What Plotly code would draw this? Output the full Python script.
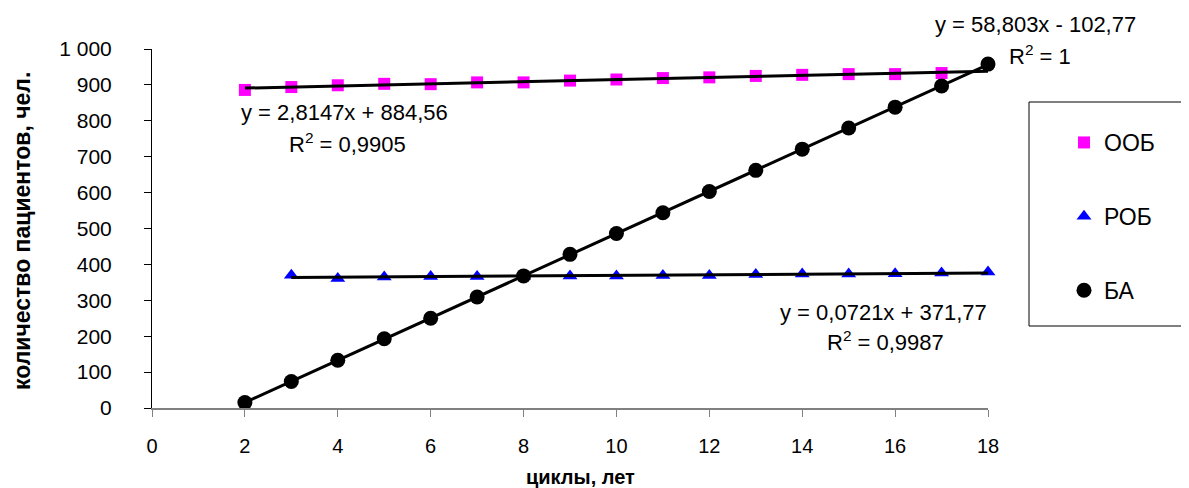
import numpy as np
import plotly.graph_objects as go

# ---- data ----
oob_x = [2, 3, 4, 5, 6, 7, 8, 9, 10, 11, 12, 13, 14, 15, 16, 17]
oob_y = [886, 894, 899, 903, 902, 907, 907, 912, 915, 919, 921, 925, 928, 930, 930, 933]

rob_x = [3, 4, 5, 6, 7, 8, 9, 10, 11, 12, 13, 14, 15, 16, 17, 18]
rob_y = [370, 361, 365, 366, 366, 367, 368, 368, 369, 369, 372, 373, 373, 374, 376, 379]

ba_x = [2, 3, 4, 5, 6, 7, 8, 9, 10, 11, 12, 13, 14, 15, 16, 17, 18]
ba_y = [15, 74, 133, 193, 250, 309, 368, 428, 486, 544, 603, 662, 721, 780, 838, 897, 958]

series_names = ["ООБ", "РОБ", "БА"]
x_ticks = [0, 2, 4, 6, 8, 10, 12, 14, 16, 18]
y_ticks = [0, 100, 200, 300, 400, 500, 600, 700, 800, 900, 1000]
y_tick_labels = ["0", "100", "200", "300", "400", "500", "600", "700", "800", "900", "1 000"]

eq_oob = ["y = 2,8147x + 884,56", "R<sup>2</sup> = 0,9905"]
eq_rob = ["y = 0,0721x + 371,77", "R<sup>2</sup> = 0,9987"]
eq_ba = ["y = 58,803x - 102,77", "R<sup>2</sup> = 1"]

x_title = "циклы, лет"
y_title = "количество пациентов, чел."

# ---- layout geometry (screen pixels; page body has an 8px margin) ----
OFF = 8
SCREEN_W, SCREEN_H = 1189, 488
W, H = SCREEN_W - OFF, SCREEN_H - OFF
PL, PR, PT, PB = 152 - OFF, 988 - OFF, 49 - OFF, 408 - OFF   # plot area edges in figure px
ML, MR, MT, MB = PL, 0, PT, H - PB
PAPER_W = W - ML - MR
PAPER_H = PB - PT
FONT = "Liberation Sans, Arial, sans-serif"


def px(xs):
    """screen x -> paper x"""
    return (xs - OFF - ML) / PAPER_W


def py(ys):
    """screen y -> paper y"""
    return (PB - (ys - OFF)) / PAPER_H


fig = go.Figure()

marker_styles = [
    dict(symbol="square", size=12, color="#FF00FF"),
    dict(symbol="triangle-up", size=13, color="#0000FF"),
    dict(symbol="circle", size=15, color="#000000"),
]
data = [(oob_x, oob_y), (rob_x, rob_y), (ba_x, ba_y)]

for i, ((xs, ys), name, ms) in enumerate(zip(data, series_names, marker_styles)):
    fig.add_trace(go.Scatter(
        x=xs, y=ys, mode="markers", name=name, marker=ms,
        cliponaxis=False, legendgroup=f"g{i}",
    ))

x_axis_max = x_ticks[-1]
for (xs, ys) in data:
    k, b = np.polyfit(xs, ys, 1)
    tx = np.array([min(xs), x_axis_max])
    fig.add_trace(go.Scatter(
        x=tx, y=k * tx + b, mode="lines", showlegend=False,
        line=dict(color="black", width=3), cliponaxis=False, hoverinfo="skip",
    ))

fig.update_xaxes(
    domain=[0, (PR - PL) / PAPER_W],
    range=[x_ticks[0], x_ticks[-1]], tickvals=x_ticks, showgrid=False, zeroline=False,
    showline=True, linecolor="#808080", linewidth=1.5, ticks="outside", ticklen=7,
    tickcolor="#808080", tickfont=dict(family=FONT, size=20, color="black"),
    ticklabelstandoff=12, automargin=False,
)
fig.update_yaxes(
    domain=[0, 1],
    range=[y_ticks[0], y_ticks[-1]], tickvals=y_ticks, ticktext=y_tick_labels,
    showgrid=False, zeroline=False,
    showline=True, linecolor="black", linewidth=1, ticks="outside", ticklen=7,
    tickcolor="black", tickfont=dict(family=FONT, size=21, color="black"),
    ticklabelstandoff=28, automargin=False,
)

annots = [
    (eq_oob[0], 239, 112), (eq_oob[1], 287, 143),
    (eq_ba[0], 933, 25), (eq_ba[1], 1007, 55),
    (eq_rob[0], 778, 312), (eq_rob[1], 825, 341),
]
for text, xl, yc in annots:
    fig.add_annotation(
        text=text, x=px(xl), y=py(yc), xref="paper", yref="paper",
        xanchor="left", yanchor="middle", showarrow=False,
        font=dict(family=FONT, size=22, color="black"),
    )

# axis titles as annotations
fig.add_annotation(
    text=f"<b>{y_title}</b>", x=px(22), y=py(231), xref="paper", yref="paper",
    textangle=-90, showarrow=False, xanchor="center", yanchor="middle",
    font=dict(family=FONT, size=23, color="black"),
)
fig.add_annotation(
    text=f"<b>{x_title}</b>", x=px(580), y=py(477), xref="paper", yref="paper",
    showarrow=False, xanchor="center", yanchor="middle",
    font=dict(family=FONT, size=20, color="black"),
)

# legend box
fig.add_shape(type="rect", xref="paper", yref="paper",
              x0=px(1029), x1=px(1200), y0=py(326), y1=py(102),
              line=dict(color="black", width=1), fillcolor="rgba(0,0,0,0)")

fig.update_layout(
    width=W, height=H,
    margin=dict(l=ML, r=MR, t=MT, b=MB, autoexpand=False),
    plot_bgcolor="white", paper_bgcolor="white",
    font=dict(family=FONT, color="black"),
    showlegend=True,
    legend=dict(
        x=px(1064), y=py(121), xanchor="left", yanchor="top",
        bgcolor="rgba(0,0,0,0)", borderwidth=0,
        font=dict(family=FONT, size=23, color="black"),
        tracegroupgap=41, itemsizing="trace",
    ),
)

fig.write_html("out.html")
